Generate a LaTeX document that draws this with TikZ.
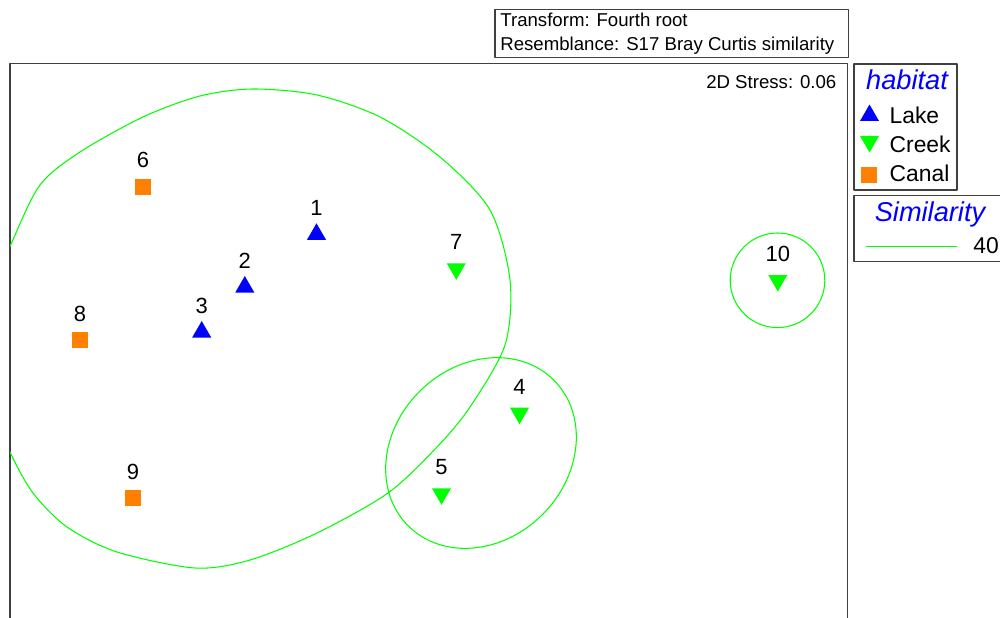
\documentclass[tikz,border=0pt]{standalone}
\usepackage{fontspec}
\setmainfont{Liberation Sans}
\usetikzlibrary{shapes.geometric}
\definecolor{cam}{RGB}{255,128,0}
\tikzset{
	khung/.style={draw=black!75,line width=0.7pt},
	vien/.style={draw=green,line width=0.6pt},
	lake/.style={regular polygon,regular polygon sides=3,fill=blue,minimum size=0.44cm,inner sep=0pt},
	creek/.style={lake,fill=green,shape border rotate=180},
	canal/.style={rectangle,fill=cam,minimum size=0.32cm,inner sep=0pt},
	so/.style={font=\fontsize{12.5}{14}\selectfont,inner sep=0pt,anchor=base},
	chu/.style={font=\fontsize{10.6}{12}\selectfont,inner sep=0pt},
	chulon/.style={font=\fontsize{13}{15}\selectfont,inner sep=0pt,anchor=base west},
	tieude/.style={font=\fontsize{15.5}{18}\selectfont\itshape,text=blue,inner sep=0pt,anchor=base}
}
\begin{document}
\begin{tikzpicture}[x=0.02cm,y=-0.02cm,line join=round]
		\clip (0,0) rectangle (1000,618);
		%==Khung
		\draw[khung] (10,63.5) rectangle (847.3,640);
		\draw[khung] (495,9.3) rectangle (848.3,57.7);
		\node[chu,anchor=base west] (T1) at (500,26.7) {Transform: Fourth root};
		\node[chu,anchor=base west] (T2) at (500,51) {Resemblance: S17 Bray Curtis similarity};
		\node[chu,anchor=base east] (S) at (836.7,88.3) {2D Stress: 0.06};
		%==Duong bao
		\begin{scope}
		\clip (10,63.5) rectangle (847.3,640);
		\draw[vien] plot[smooth cycle] coordinates {(12,242) (40,185) (80,152) (143,117) (200,96) (253,89) (317,95) (380,117) (440,157) (490,210) (510,280) (505,345) (470,407) (437,447) (388,493) (317,533) (250,560) (195,568) (117,552) (67,527) (33,493) (10,452) (-5,410) (-12,345) (-5,285)};
		\end{scope}
		\draw[vien,rotate around={45:(481,453)}] (481,453) ellipse [x radius=103,y radius=87];
		\draw[vien] (777.5,280.3) circle (47.3);
		%==Cac diem
		\foreach \n/\x/\y/\k in {1/316.5/234.3/lake,2/244.8/287/lake,3/201.7/332/lake,6/143/187/canal,8/80/340/canal,9/133/498/canal,7/456.3/268.8/creek,4/519.5/413.2/creek,5/441.5/493.8/creek,10/777.8/280.5/creek}{
			\node[\k] (P\n) at (\x,\y) {};
			\path (P\n) ++(0,-19) node[so] (L\n) {\n};
		}
		%==Chu giai
		\draw[khung] (854,64) rectangle (957,190);
		\node[tieude] (H) at (907,90) {habitat};
		\node[lake] (H1) at (869.5,115.5) {};
		\node[creek] (H2) at (869.5,141.5) {};
		\node[canal] (H3) at (869.2,174.7) {};
		\node[chulon] (N1) at (889.3,123.3) {Lake};
		\node[chulon] (N2) at (889.3,152.3) {Creek};
		\node[chulon] (N3) at (889.3,181.7) {Canal};
		\draw[khung] (854,195.7) rectangle (1010,261.7);
		\node[tieude] (G) at (930,221.7) {Similarity};
		\coordinate (G1) at (866,246.7);
		\coordinate (G2) at (957,246.7);
		\draw[vien] (G1)--(G2);
		\node[chulon] (G3) at (973,254) {40};
\end{tikzpicture}
\end{document}
